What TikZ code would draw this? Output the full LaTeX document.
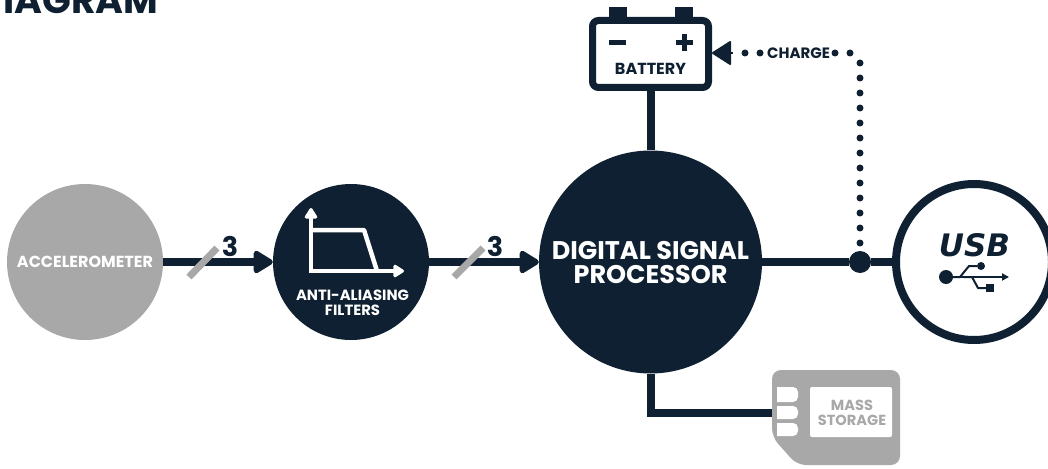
\documentclass[tikz,border=0pt]{standalone}
\usepackage{fontspec}
\setmainfont{Poppins}[BoldFont=Poppins Bold]
\newfontfamily\usbfont{DejaVu Sans}
\usetikzlibrary{arrows.meta,calc}
\definecolor{navy}{HTML}{0E2031}
\definecolor{midgray}{HTML}{A8A8A8}
\tikzset{
  x=1pt,y=-1pt,
  disc/.style={circle,inner sep=0pt,draw=none,fill=#1},
  wire/.style={draw=navy,line width=8pt},
  arrowed/.style={wire,-{Triangle[length=22pt,width=25pt,round]}},
  dotline/.style={draw=navy,line width=7pt,line cap=round,dash pattern=on 0pt off 15pt},
  slash/.style={draw=midgray,line width=7pt},
  lab/.style={inner sep=0pt,align=center,font=\bfseries},
  icon/.style={draw=white,line width=4.5pt},
  iconarrow/.style={icon,-{Triangle[length=12pt,width=14pt,round]}},
  usbline/.style={draw=navy,line width=2pt,line join=round},
}
\begin{document}
\begin{tikzpicture}
\useasboundingbox (0,0) rectangle (1048,468);
\clip (0,0) rectangle (1048,468);
\node[lab,anchor=base west,text=navy,font=\bfseries\fontsize{37.8}{38}\selectfont] (title) at (3,14) {IAGRAM};

% main blocks
\node[disc=midgray,minimum size=156pt] (acc) at (85,262) {};
\node[disc=navy,minimum size=156pt] (aaf) at (351,262) {};
\node[disc=navy,minimum size=223pt] (dsp) at (650.5,262) {};
\node[circle,inner sep=0pt,draw=navy,line width=8pt,fill=white,minimum size=156pt] (usb) at (974,262) {};
\node[rectangle,rounded corners=6pt,draw=navy,line width=7pt,fill=white,inner sep=0pt,minimum width=116pt,minimum height=67pt] (bat) at (650.5,54) {};
\node[disc=navy,minimum size=22pt] (jn) at (860,262) {};

% connectors
\draw[arrowed] (acc) -- (aaf);
\draw[arrowed] (aaf) -- (dsp);
\draw[wire] (dsp) -- (jn);
\draw[wire] (jn) -- (usb);
\draw[wire] (dsp.north) -- (bat.south);

% slashes and bus widths
\coordinate (s1a) at (189,277); \coordinate (s1b) at (217,248);
\coordinate (s2a) at (454,277); \coordinate (s2b) at (483,248);
\draw[slash] (s1a) -- (s1b);
\draw[slash] (s2a) -- (s2b);
\node[lab,text=navy,font=\bfseries\fontsize{27}{27}\selectfont] (n1) at (230,246) {3};
\node[lab,text=navy,font=\bfseries\fontsize{27}{27}\selectfont] (n2) at (495,246) {3};

% block texts
\node[lab,text=white,font=\bfseries\fontsize{16}{16}\selectfont] (acct) at (85,262) {ACCELEROMETER};
\node[lab,text=white,font=\bfseries\fontsize{14.8}{15}\selectfont] (aaft) at (352.5,303) {ANTI-ALIASING\\FILTERS};
\node[lab,text=white,font=\bfseries\fontsize{25.5}{24}\selectfont] (dspt) at (650.5,263) {DIGITAL SIGNAL\\PROCESSOR};
\node[lab,text=navy,font=\bfseries\fontsize{16}{16}\selectfont] (batt) at (650.5,69) {BATTERY};

% filter icon
\coordinate (ax0) at (311,271); \coordinate (axy) at (311,208); \coordinate (axx) at (404,271);
\coordinate (f1) at (311,230); \coordinate (f2) at (364,230); \coordinate (f3) at (377,271);
\draw[iconarrow] (ax0) -- (axy);
\draw[iconarrow] ($(ax0)+(-2.25,0)$) -- (axx);
\draw[icon,line join=round] (f1) -- (f2) -- (f3);

% battery details
\fill[navy] (609,7) rectangle (627,18);
\fill[navy] (675,7) rectangle (693,18);
\fill[navy] (609,40.5) rectangle (626,45.5);
\fill[navy] (675.5,40) rectangle (692.5,45);
\fill[navy] (681.5,34) rectangle (686.5,51);

% charge line
\coordinate (corner) at (860,63);
\coordinate (c1) at (850,53);
\coordinate (c2) at (745,53);
\coordinate (tail) at (733,53);
\draw[dotline] (corner) -- (jn);
\draw[dotline] (c1) -- (c2);
\node[lab,fill=white,text=navy,font=\bfseries\fontsize{15}{15}\selectfont,minimum width=63pt,minimum height=14pt] (chg) at (798.5,53) {CHARGE};
\draw[draw=navy,line width=2pt,-{Triangle[length=20pt,width=25pt,round]}] (tail) -- (bat.east |- tail);

% USB symbol
\node[inner sep=0pt,text=navy,font=\usbfont\bfseries\itshape\fontsize{31}{31}\selectfont] (usbt) at (974.5,245) {USB};
\node[disc=navy,minimum size=14pt] (u0) at (946,277) {};
\node[disc=navy,minimum size=8pt] (u1) at (981,266) {};
\node[rectangle,inner sep=0pt,fill=navy,minimum size=8pt] (u2) at (990,288) {};
\coordinate (u3) at (1009,277);
\draw[usbline,-{Triangle[length=7pt,width=7pt]}] (u0) -- (u3);
\draw[usbline] (952,277) -- (960,277) -- (969,266) -- (u1);
\draw[usbline] (964,277) -- (972,277) -- (978,288) -- (u2);

% mass storage
\node[inner sep=0pt,minimum width=128pt,minimum height=95pt] (ms) at (836,417.5) {};
\fill[midgray,rounded corners=9pt] (772,370) -- (900,370) -- (900,465) -- (797,465) -- (772,437) -- cycle;
\fill[white,rounded corners=2pt] (810,387) rectangle (892,437);
\foreach \a/\b in {387/402,406/419,423/436}
  \fill[white] (777,\a) [rounded corners=5pt] -- (798,\a) -- (798,\b) [sharp corners] -- (777,\b) -- cycle;
\node[lab,text=midgray,font=\bfseries\fontsize{14.6}{14.5}\selectfont] (mst) at (852,413) {MASS\\STORAGE};
\draw[wire,line join=miter] (dsp.south) -- ($(dsp.south |- ms.west)+(0,-5)$) -- ($(ms.west)+(0,-5)$);
\end{tikzpicture}
\end{document}
